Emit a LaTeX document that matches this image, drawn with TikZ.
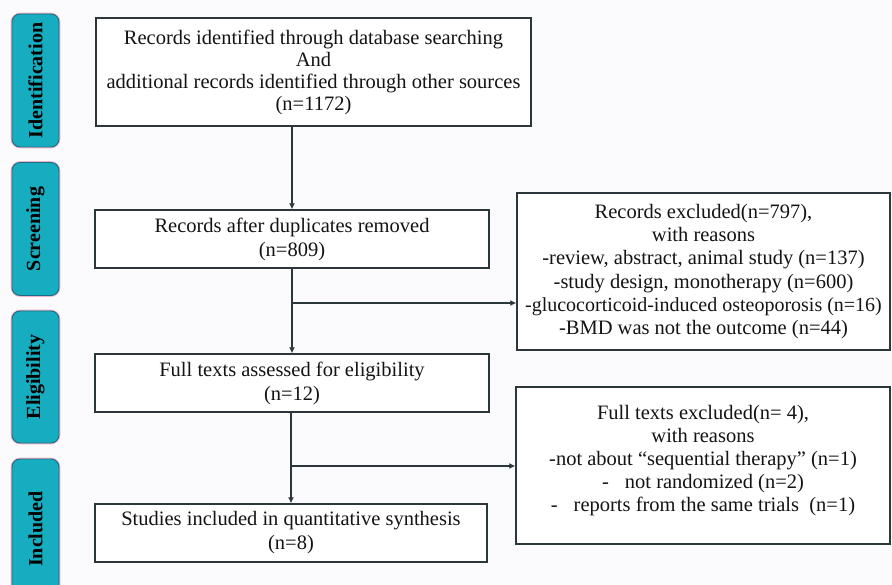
\documentclass[tikz,border=0pt]{standalone}
\usepackage{fontspec}
\setmainfont{Liberation Serif}
\usetikzlibrary{arrows.meta}
\definecolor{linec}{HTML}{2B373B}
\definecolor{tealfill}{HTML}{17ADC0}
\definecolor{tealedge}{HTML}{1C6C86}
\definecolor{glow}{HTML}{F0B4C4}
\definecolor{bgc}{HTML}{FBFBFD}
\definecolor{txt}{HTML}{141414}
\begin{document}
\begin{tikzpicture}[x=1pt,y=-1pt,
  box/.style={draw=linec, line width=1.4pt, fill=white, inner sep=0pt, align=center,
    text=txt, font=\fontsize{20.5}{24}\selectfont},
  phase/.style={draw=tealedge, line width=0.9pt, fill=tealfill, rounded corners=8pt,
    preaction={draw=glow, line width=2.6pt}, rotate=90, inner sep=0pt,
    minimum height=47pt, text=black, font=\fontsize{20}{22}\selectfont\bfseries},
  conn/.style={draw=linec, line width=1.8pt, -{Latex[length=6pt,width=6pt]}},
  plain/.style={draw=linec, line width=1.8pt}]
\clip (0,0) rectangle (892,585);
\fill[bgc] (0,0) rectangle (892,585);
% phase labels
\node[phase, minimum width=133pt] (pid) at (35.5,80.5) {Identification};
\node[phase, minimum width=133pt] (psc) at (35.5,229) {Screening};
\node[phase, minimum width=132pt] (pel) at (35.5,377) {Eligibility};
\node[phase, minimum width=140pt] (pin) at (35.5,529) {Included};
% main boxes
\node[box, minimum width=435pt, minimum height=108pt,
  font=\fontsize{20.5}{22}\selectfont] (b1) at (313.5,72)
  {Records identified through database searching\\And\\additional records identified through other sources\\(n=1172)};
\node[box, minimum width=394pt, minimum height=58pt] (b2) at (292,239)
  {Records after duplicates removed\\(n=809)};
\node[box, minimum width=394pt, minimum height=58pt] (b3) at (292,383)
  {Full texts assessed for eligibility\\(n=12)};
\node[box, minimum width=392pt, minimum height=58pt] (b4) at (291,533)
  {Studies included in quantitative synthesis\\(n=8)};
% exclusion boxes
\node[box, minimum width=373pt, minimum height=157pt,
  font=\fontsize{20.5}{23.3}\selectfont] (e1) at (703.5,271.5)
  {Records excluded(n=797),\\with reasons\\-review, abstract, animal study (n=137)\\-study design, monotherapy (n=600)\\{\fontsize{20}{23.3}\selectfont -glucocorticoid-induced osteoporosis (n=16)}\\-BMD was not the outcome (n=44)};
\node[box, minimum width=374pt, minimum height=157pt] (e2) at (703,465.5) {};
\node[align=center, text=txt, inner sep=0pt, font=\fontsize{20.5}{23}\selectfont] (e2t) at ([yshift=5pt]e2.center)
  {Full texts excluded(n= 4),\\with reasons\\-not about “sequential therapy” (n=1)\\-\hspace{16pt}not randomized (n=2)\\-\hspace{16pt}reports from the same trials~~(n=1)};
% connectors
\coordinate (j1) at (291,303);
\coordinate (j2) at (291,466);
\draw[conn] (b1.south -| b2.north) -- (b2.north);
\draw[conn] (b2.south) -- (b3.north);
\draw[conn] (j1) -- (j1 -| e1.west);
\draw[conn] (b3.south -| b4.north) -- (b4.north);
\draw[conn] (j2) -- (j2 -| e2.west);
\end{tikzpicture}
\end{document}
